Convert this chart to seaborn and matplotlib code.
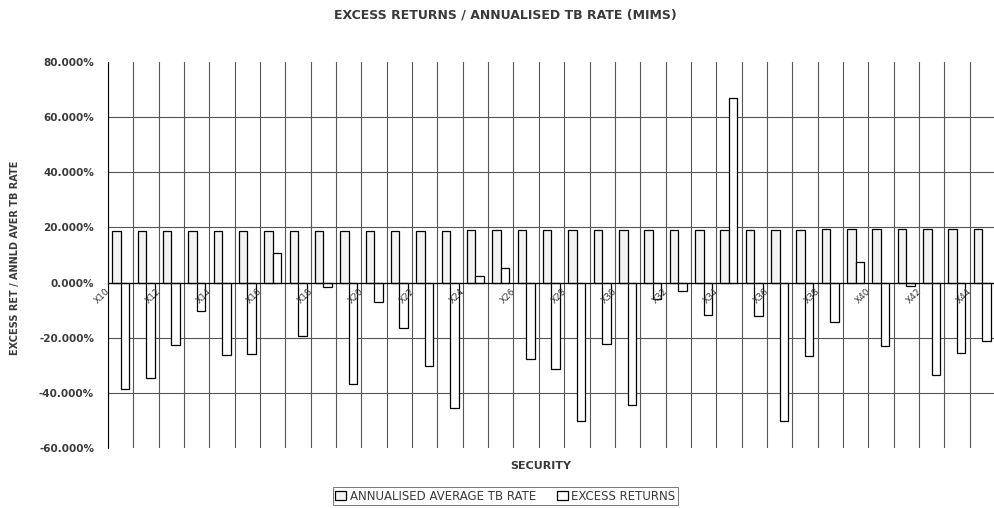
import seaborn as sns
import pandas as pd
import matplotlib.pyplot as plt
from matplotlib.ticker import StrMethodFormatter
from matplotlib.transforms import ScaledTranslation

# Data (values in %)
securities = ['X10', 'X11', 'X12', 'X13', 'X14', 'X15', 'X16', 'X17', 'X18', 'X19',
              'X20', 'X21', 'X22', 'X23', 'X24', 'X25', 'X26', 'X27', 'X28', 'X29',
              'X30', 'X31', 'X32', 'X33', 'X34', 'X35', 'X36', 'X37', 'X38', 'X39',
              'X40', 'X41', 'X42', 'X43', 'X44']
tb_rate = [18.7, 18.7, 18.7, 18.7, 18.7, 18.7, 18.7, 18.7, 18.8, 18.8,
           18.8, 18.8, 18.8, 18.8, 18.9, 18.9, 19.0, 19.0, 19.0, 19.0,
           19.1, 19.1, 19.1, 19.1, 19.2, 19.2, 19.2, 19.2, 19.3, 19.3,
           19.3, 19.3, 19.4, 19.4, 19.4]
excess = [-38.6, -34.7, -22.5, -10.4, -26.3, -26.0, 10.8, -19.2, -1.6, -36.9,
          -6.9, -16.3, -30.3, -45.5, 2.4, 5.4, -27.9, -31.4, -50.1, -22.2,
          -44.5, -6.0, -3.0, -11.6, 67.1, -12.2, -50.1, -26.6, -14.4, 7.5,
          -23.0, -1.2, -33.5, -25.7, -21.3]
series_names = ['ANNUALISED AVERAGE TB RATE', 'EXCESS RETURNS']

df = pd.DataFrame({
    'security': securities + securities,
    'series': [series_names[0]] * len(securities) + [series_names[1]] * len(securities),
    'value': tb_rate + excess,
})

sns.set_style('white')
plt.rcParams['font.family'] = ['DejaVu Sans']
plt.rcParams['axes.unicode_minus'] = False
txt = '#3a3a3a'

fig = plt.figure(figsize=(9.95, 5.08), dpi=100)
ax = fig.add_axes([108 / 995, 60 / 508, 887 / 995, 386 / 508])

sns.barplot(data=df, x='security', y='value', hue='series', ax=ax,
            palette={series_names[0]: '#f3f3f3', series_names[1]: 'white'},
            saturation=1, width=0.67, edgecolor='black', linewidth=0.9)

ax.set_xlim(-0.5, len(securities) - 0.5)
ax.set_ylim(-60, 80)
ax.set_yticks(range(-60, 81, 20))
ax.yaxis.set_major_formatter(StrMethodFormatter('{x:.3f}%'))
ax.tick_params(axis='y', direction='out', length=4, width=0.8, color='black',
               labelsize=7.5, labelcolor=txt, pad=6)
for lab in ax.get_yticklabels():
    lab.set_fontweight('bold')

# category axis sits at zero, Excel style
ax.spines['bottom'].set_position(('data', 0))
for side in ['top', 'right']:
    ax.spines[side].set_visible(False)
ax.spines['left'].set_color('black')
ax.spines['left'].set_linewidth(0.8)
ax.spines['bottom'].set_color('black')
ax.spines['bottom'].set_linewidth(0.9)

ax.set_xticks(range(0, len(securities), 2))
ax.set_xticklabels(securities[::2], rotation=45, ha='right', rotation_mode='anchor',
                   fontsize=6.5, color=txt)
ax.set_xticks([i - 0.5 for i in range(len(securities) + 1)], minor=True)
ax.tick_params(axis='x', which='both', length=0, pad=3)
shift = ScaledTranslation(-0.15, 0, fig.dpi_scale_trans)
for lab in ax.get_xticklabels():
    lab.set_transform(lab.get_transform() + shift)

ax.set_axisbelow(True)
ax.grid(axis='x', which='minor', color='#555555', linewidth=0.8)
ax.grid(axis='y', which='major', color='#555555', linewidth=0.8)
ygl = ax.yaxis.get_gridlines()
ygl[0].set_visible(False)
ygl[-1].set_visible(False)
# x labels (and the boundary gridlines) drawn over the bars
ax.xaxis.set_zorder(2.2)
ax.set_xlabel('')
ax.set_ylabel('')

fig.text(0.508, 0.970, 'EXCESS RETURNS / ANNUALISED TB RATE (MIMS)', ha='center', va='center',
         fontsize=9, fontweight='bold', color=txt)
fig.text(0.015, 1 - 258 / 508, 'EXCESS RET / ANNLD AVER TB RATE', rotation=90,
         ha='center', va='center', fontsize=7, fontweight='bold', color=txt)
fig.text(0.543, 1 - 466 / 508, 'SECURITY', ha='center', va='center',
         fontsize=8, fontweight='bold', color=txt)

handles, labels = ax.get_legend_handles_labels()
ax.get_legend().remove()
leg = fig.legend(handles, labels, loc='center', bbox_to_anchor=(0.508, 1 - 496 / 508),
                 ncol=2, fontsize=8.5, frameon=True, fancybox=False, edgecolor='#555555',
                 handlelength=0.9, handleheight=0.8, handletextpad=0.3, columnspacing=1.8,
                 borderpad=0.25)
leg.get_frame().set_linewidth(0.7)
for t in leg.get_texts():
    t.set_color(txt)

fig.savefig('out.png', dpi=100)
